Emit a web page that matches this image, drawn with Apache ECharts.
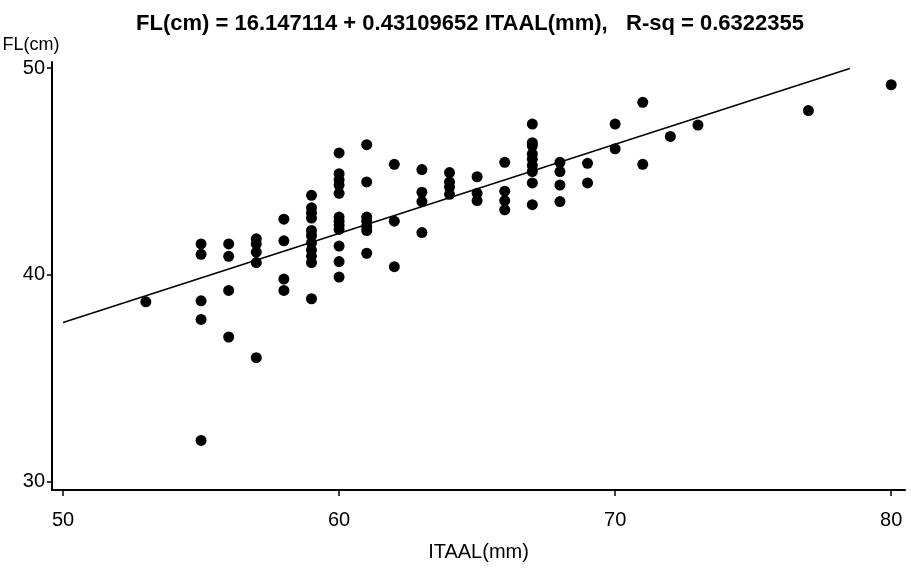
<!DOCTYPE html>
<html>
<head>
<meta charset="utf-8">
<script src="https://cdn.jsdelivr.net/npm/echarts@6/dist/echarts.min.js"></script>
<style>html,body{margin:0;padding:0;background:#fff;}#c{width:911px;height:570px;}</style>
</head>
<body>
<div id="c"></div>
<script>
// ITAAL(mm) values grouped, with FL(cm) values per group
const groupX = [53, 55, 56, 57, 58, 59, 60, 61, 62, 63, 64, 65, 66, 67, 68, 69, 70, 71, 72, 73, 77, 80];
const groupY = [
  [38.7],
  [41.5, 41.0, 38.75, 37.85, 32.0],
  [41.5, 40.9, 39.25, 37.0],
  [41.75, 41.5, 41.1, 40.6, 36.0],
  [42.7, 41.65, 39.8, 39.25],
  [43.85, 43.25, 43.0, 42.75, 42.15, 41.9, 41.55, 41.2, 40.9, 40.6, 38.85],
  [45.9, 44.9, 44.6, 44.35, 43.95, 42.8, 42.6, 42.4, 42.2, 41.4, 40.65, 39.9],
  [46.3, 44.5, 42.8, 42.6, 42.35, 42.15, 41.05],
  [45.35, 42.6, 40.4],
  [45.1, 44.0, 43.55, 42.05],
  [44.95, 44.5, 44.25, 43.9],
  [44.75, 43.95, 43.6],
  [45.45, 44.05, 43.6, 43.15],
  [47.3, 46.4, 46.25, 45.85, 45.6, 45.3, 45.0, 44.45, 43.4],
  [45.45, 45.0, 44.35, 43.55],
  [45.4, 44.45],
  [47.3, 46.1],
  [48.35, 45.35],
  [46.7],
  [47.25],
  [47.95],
  [49.2]
];
const intercept = 16.147114;
const slope = 0.43109652;
const fitX = [50, 78.5];
const xTicks = [50, 60, 70, 80];
const yTicks = [30, 40, 50];
const titleText = 'FL(cm) = 16.147114 + 0.43109652 ITAAL(mm),   R-sq = 0.6322355';

const points = [];
groupX.forEach((x, i) => groupY[i].forEach(y => points.push([x, y])));
const fitLine = fitX.map(x => [x, intercept + slope * x]);

const font = '"Liberation Sans Narrow", "Liberation Sans", Arial, sans-serif';
const chart = echarts.init(document.getElementById('c'), null, {renderer: 'canvas'});
chart.setOption({
  backgroundColor: '#fff',
  animation: false,
  title: {
    text: titleText,
    left: 465, top: 8, textAlign: 'center',
    textStyle: {fontFamily: font, fontWeight: 'bold', fontSize: 22, color: '#000'}
  },
  grid: {left: 52, right: 6, top: 62, bottom: 80, containLabel: false, outerBoundsMode: 'none'},
  xAxis: {
    type: 'value', min: 49.6, max: 80.5,
    name: 'ITAAL(mm)', nameLocation: 'middle', nameGap: 52,
    nameTextStyle: {fontFamily: font, fontSize: 20, color: '#000'},
    axisLine: {lineStyle: {color: '#000', width: 2}},
    axisTick: {show: true, customValues: xTicks, length: 6, lineStyle: {color: '#000', width: 1.5}},
    axisLabel: {customValues: xTicks, fontFamily: font, fontSize: 20, color: '#000', margin: 20},
    splitLine: {show: false}
  },
  yAxis: {
    type: 'value', min: 29.6, max: 50.3,
    name: 'FL(cm)', nameLocation: 'end', nameGap: 8,
    nameTextStyle: {fontFamily: font, fontSize: 18, color: '#000', align: 'center', padding: [0, 0, 0, -42]},
    axisLine: {show: true, lineStyle: {color: '#000', width: 2}},
    axisTick: {show: true, customValues: yTicks, length: 5, lineStyle: {color: '#000', width: 1.5}},
    axisLabel: {customValues: yTicks, fontFamily: font, fontSize: 20, color: '#000', margin: 7},
    splitLine: {show: false}
  },
  series: [
    {
      type: 'scatter', data: points, symbol: 'circle', symbolSize: 11,
      itemStyle: {color: '#000', opacity: 1}
    },
    {
      type: 'line', data: fitLine, symbol: 'none',
      lineStyle: {color: '#000', width: 1.5}
    }
  ]
});
</script>
</body>
</html>
